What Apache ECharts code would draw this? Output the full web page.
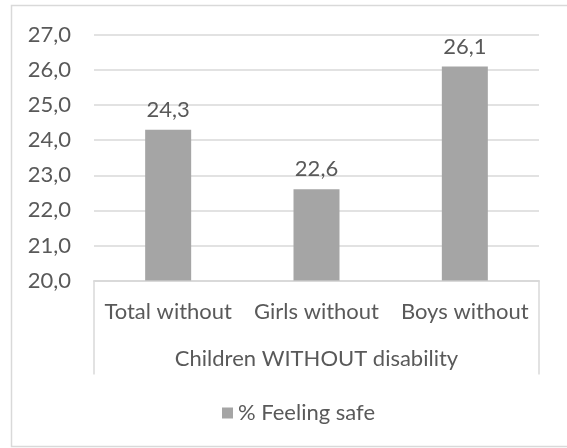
<!DOCTYPE html>
<html>
<head>
<meta charset="utf-8">
<script src="https://cdn.jsdelivr.net/npm/echarts@6/dist/echarts.min.js"></script>
<style>
  html, body { margin: 0; padding: 0; background: #ffffff; }
  #chart { width: 567px; height: 448px; }
</style>
</head>
<body>
<div id="chart"></div>
<script>
// Share of children feeling safe, children without disability
const categories = ['Total without', 'Girls without', 'Boys without'];
const groupLabel = ['Children WITHOUT disability'];
const seriesName = '% Feeling safe';
const feelingSafe = [24.3, 22.6, 26.1];
const yMin = 20, yMax = 27, yStep = 1;

const FONT = 'Lato';
const TEXT = '#595959';
const LINE = '#d9d9d9';
const fmt = v => v.toFixed(1).replace('.', ',');

const chart = echarts.init(document.getElementById('chart'), null, { renderer: 'canvas' });

chart.setOption({
  animation: false,
  backgroundColor: '#ffffff',
  textStyle: { fontFamily: FONT, color: TEXT },
  graphic: [{
    type: 'rect',
    shape: { x: 11.5, y: 5.5, width: 600, height: 441 },
    style: { fill: 'none', stroke: LINE, lineWidth: 1.5 },
    silent: true
  }],
  grid: { left: 94, right: 28, top: 35, bottom: 167.5, containLabel: false },
  legend: {
    data: [seriesName],
    left: 217,
    top: 397,
    icon: 'rect',
    itemWidth: 11,
    itemHeight: 11,
    itemGap: 8,
    textStyle: { fontFamily: FONT, fontSize: 22, color: TEXT }
  },
  xAxis: [{
    type: 'category',
    data: categories,
    position: 'bottom',
    axisLine: { show: true, lineStyle: { color: LINE, width: 1.5 } },
    axisTick: { show: false },
    axisLabel: { interval: 0, margin: 20, fontFamily: FONT, fontSize: 22, color: TEXT }
  }, {
    type: 'category',
    data: groupLabel,
    position: 'bottom',
    axisLine: { show: true, lineStyle: { color: LINE, width: 1.5 } },
    axisTick: { show: true, length: 94, lineStyle: { color: LINE, width: 1.5 } },
    axisLabel: { interval: 0, margin: 67, fontFamily: FONT, fontSize: 22, color: TEXT }
  }],
  yAxis: {
    type: 'value',
    min: yMin,
    max: yMax,
    interval: yStep,
    axisLine: { show: false },
    axisTick: { show: false },
    splitLine: { lineStyle: { color: LINE, width: 1.5 } },
    axisLabel: { margin: 23, fontFamily: FONT, fontSize: 22, color: TEXT, formatter: fmt }
  },
  series: [{
    name: seriesName,
    type: 'bar',
    xAxisIndex: 0,
    data: feelingSafe,
    barWidth: 46,
    itemStyle: { color: '#a5a5a5' },
    label: {
      show: true,
      position: 'top',
      distance: 9,
      fontFamily: FONT,
      fontSize: 22,
      color: TEXT,
      formatter: p => fmt(p.value)
    }
  }]
});
</script>
</body>
</html>
